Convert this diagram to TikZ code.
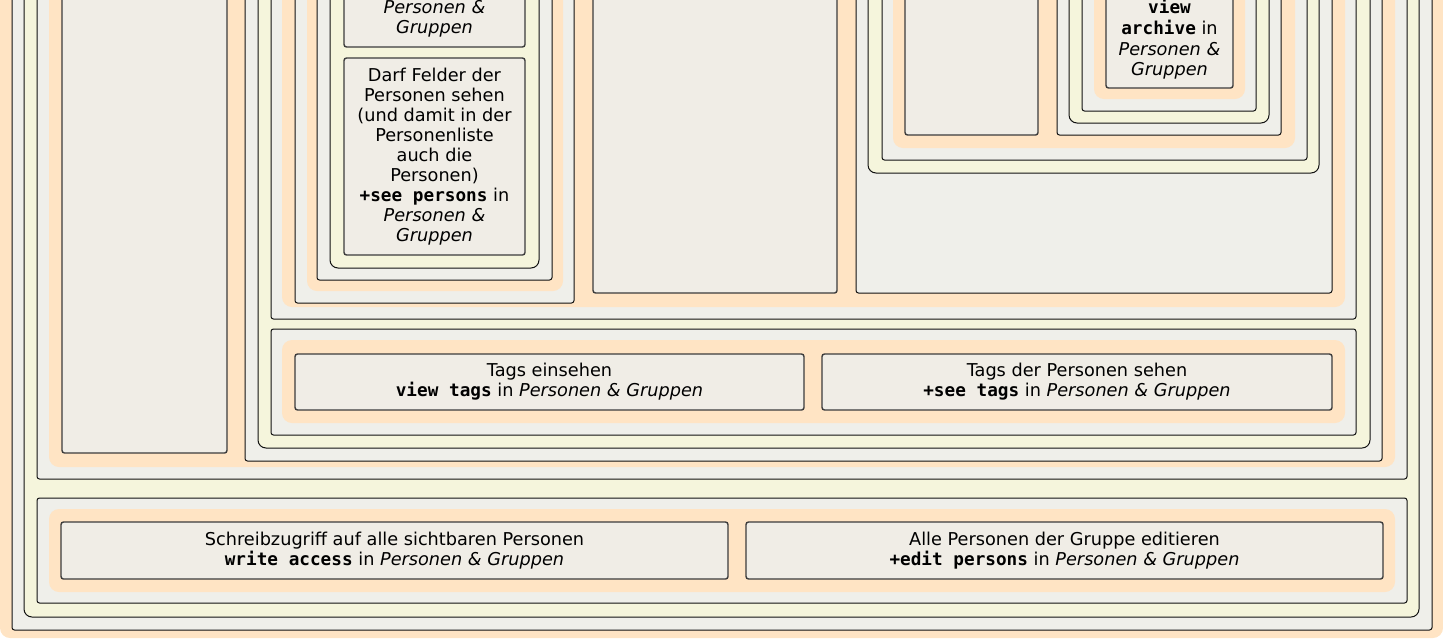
\documentclass[tikz,border=0pt]{standalone}
\usepackage{fontspec}
\setmainfont{DejaVu Sans}
\setmonofont{DejaVu Sans Mono}
\usepackage{xcolor}
\usetikzlibrary{positioning}
\definecolor{ink}{HTML}{111111}
\definecolor{edge}{HTML}{3C3C3C}
\definecolor{halofill}{HTML}{FFE4C4}
\definecolor{creamfill}{HTML}{F5F5DC}
\definecolor{panelfill}{HTML}{EFEFEA}
\definecolor{permfill}{HTML}{F0EDE6}
\tikzset{
  halo/.style={fill=halofill, rounded corners=10pt},
  panel/.style={draw=ink, fill=panelfill, line width=1pt, rounded corners=2.5pt},
  creampanel/.style={draw=ink, fill=creamfill, line width=1pt, rounded corners=8pt},
  perm/.style={draw=edge, fill=permfill, line width=1.4pt, rounded corners=2.5pt, align=center, inner sep=0pt, font=\fontsize{17.7}{20}\selectfont},
  permtext/.style={align=center, inner sep=0pt, font=\fontsize{17.7}{20}\selectfont}
}
\newcommand{\perm}[1]{\textbf{\texttt{#1}}}
\newcommand{\pg}{\textit{Personen \& Gruppen}}

\begin{document}
\begin{tikzpicture}[x=1pt, y=-1pt]
\useasboundingbox (0,0) rectangle (1443,638);
\clip (0,0) rectangle (1443,638);
\fill[halo] (0,-40) rectangle (1443,638);
\draw[panel] (12,-40) rectangle (1432,630);
\draw[creampanel] (24,-40) rectangle (1419,617);
\draw[panel] (37,-40) rectangle (1407,479);
\fill[halo] (49,-40) rectangle (1395,467);
\node[perm, minimum width=165, minimum height=493] (leftcol) at (144.5,206.5) {};
\draw[panel] (245,-40) rectangle (1382,461);
\draw[creampanel] (258,-40) rectangle (1370,448);
\draw[panel] (271,-40) rectangle (1356,319);
\fill[halo] (282,-40) rectangle (1345,307);
\draw[panel] (295,-40) rectangle (574,303);
\fill[halo] (307,-40) rectangle (563,291);
\draw[panel] (317,-40) rectangle (552,280);
\draw[creampanel] (330,-40) rectangle (539,268);
\node[perm, minimum width=181, minimum height=87] (pgtop) at (434.5,3.5) {};
\node[permtext, above=10pt of pgtop.south] {\textit{Personen \&}\\\textit{Gruppen}};
\node[perm, minimum width=181, minimum height=197] (seepersons) at (434.5,156.5) {Darf Felder der\\Personen sehen\\(und damit in der\\Personenliste\\auch die\\Personen)\\\perm{+see persons} in\\\textit{Personen \&}\\\textit{Gruppen}};
\node[perm, minimum width=244, minimum height=333] (midcol) at (715,126.5) {};
\draw[panel] (856,-40) rectangle (1332,293);
\draw[creampanel] (868,-40) rectangle (1319,173);
\draw[panel] (882,-40) rectangle (1307,160);
\fill[halo] (893,-40) rectangle (1295,148);
\node[perm, minimum width=133, minimum height=175] (rightcol) at (971.5,47.5) {};
\draw[panel] (1057,-40) rectangle (1281,135);
\draw[creampanel] (1069,-40) rectangle (1269,123);
\draw[panel] (1082,-40) rectangle (1256,111);
\fill[halo] (1094,-40) rectangle (1245,99);
\node[perm, minimum width=127, minimum height=128] (archive) at (1169.5,24) {};
\node[permtext, above=9pt of archive.south] {\perm{view}\\[1pt]\perm{archive} in\\[1pt]\textit{Personen \&}\\\textit{Gruppen}};
\draw[panel] (271,329) rectangle (1356,435);
\fill[halo] (282,340) rectangle (1345,423);
\node[perm, minimum width=509, minimum height=56] (viewtags) at (549.5,382) {Tags einsehen\\\perm{view tags} in \pg};
\node[perm, minimum width=510, minimum height=56] (seetags) at (1077,382) {Tags der Personen sehen\\\perm{+see tags} in \pg};
\draw[panel] (37,498) rectangle (1407,603);
\fill[halo] (49,509) rectangle (1395,592);
\node[perm, minimum width=667, minimum height=57] (write) at (394.5,550.5) {Schreibzugriff auf alle sichtbaren Personen\\\perm{write access} in \pg};
\node[perm, minimum width=637, minimum height=57] (edit) at (1064.5,550.5) {Alle Personen der Gruppe editieren\\\perm{+edit persons} in \pg};
\end{tikzpicture}
\end{document}
